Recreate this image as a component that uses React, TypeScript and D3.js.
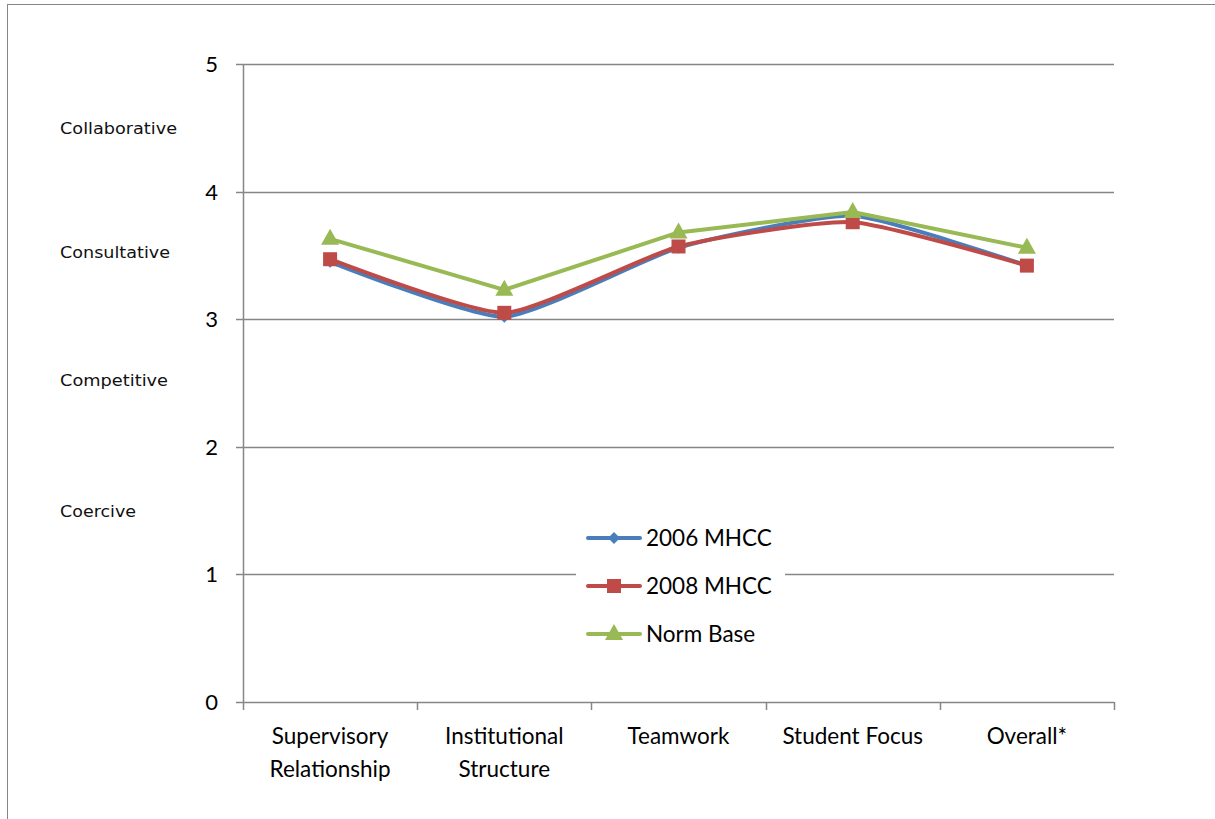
import React, { useEffect, useRef } from 'react';
import * as d3 from 'd3';

const categories = [
  ['Supervisory', 'Relationship'],
  ['Institutional', 'Structure'],
  ['Teamwork'],
  ['Student Focus'],
  ['Overall*'],
];

const series2006 = [3.45, 3.02, 3.56, 3.81, 3.42];
const series2008 = [3.47, 3.05, 3.57, 3.76, 3.42];
const seriesNorm = [3.63, 3.23, 3.68, 3.84, 3.56];

const yTicks = [0, 1, 2, 3, 4, 5];
const styleLabels = [
  { label: 'Collaborative', value: 4.5, w: 117 },
  { label: 'Consultative', value: 3.53, w: 110 },
  { label: 'Competitive', value: 2.52, w: 108 },
  { label: 'Coercive', value: 1.5, w: 76 },
];

const legendNames = ['2006 MHCC', '2008 MHCC', 'Norm Base'];

const App = () => {
  const svgRef = useRef(null);

  useEffect(() => {
    const svg = d3.select(svgRef.current);
    svg.selectAll('*').remove();

    const left = 243, right = 1114, top = 64, bottom = 702;
    const font = 'Lato, "Open Sans", sans-serif';
    const gridColor = '#868686';

    const x = d3.scaleBand().domain(d3.range(categories.length).map(String)).range([left, right]);
    const y = d3.scaleLinear().domain([0, 5]).range([bottom, top]);
    const cx = (i: number) => (x(String(i)) as number) + x.bandwidth() / 2;

    // outer frame
    svg.append('rect')
      .attr('x', 7.5).attr('y', 4.5).attr('width', 1220).attr('height', 830)
      .attr('fill', 'white').attr('stroke', gridColor).attr('stroke-width', 1);

    // gridlines
    svg.append('g').selectAll('line')
      .data(yTicks.filter(d => d > 0))
      .enter().append('line')
      .attr('x1', left).attr('x2', right)
      .attr('y1', d => Math.round(y(d)) + 0.5).attr('y2', d => Math.round(y(d)) + 0.5)
      .attr('stroke', gridColor).attr('stroke-width', 1.5);

    // y axis
    svg.append('line')
      .attr('x1', left + 0.5).attr('x2', left + 0.5).attr('y1', top).attr('y2', bottom)
      .attr('stroke', gridColor).attr('stroke-width', 1.5);
    svg.append('g').selectAll('line')
      .data(yTicks).enter().append('line')
      .attr('x1', left - 7).attr('x2', left)
      .attr('y1', d => Math.round(y(d)) + 0.5).attr('y2', d => Math.round(y(d)) + 0.5)
      .attr('stroke', gridColor).attr('stroke-width', 1.5);
    svg.append('g').selectAll('text')
      .data(yTicks).enter().append('text')
      .attr('x', 218).attr('y', d => y(d) + 8)
      .attr('text-anchor', 'end')
      .style('font-family', font).style('font-size', '22px').attr('fill', '#000')
      .text(d => d);

    // x axis
    svg.append('line')
      .attr('x1', left).attr('x2', right).attr('y1', bottom + 0.5).attr('y2', bottom + 0.5)
      .attr('stroke', gridColor).attr('stroke-width', 1.5);
    const bounds = d3.range(categories.length + 1).map(i => left + i * x.bandwidth());
    svg.append('g').selectAll('line')
      .data(bounds).enter().append('line')
      .attr('x1', d => Math.round(d) + 0.5).attr('x2', d => Math.round(d) + 0.5)
      .attr('y1', bottom).attr('y2', bottom + 8)
      .attr('stroke', gridColor).attr('stroke-width', 1.5);
    const xl = svg.append('g').selectAll('text')
      .data(categories).enter().append('text')
      .attr('x', (_d, i) => cx(i)).attr('y', 744)
      .attr('text-anchor', 'middle')
      .style('font-family', font).style('font-size', '22.5px').attr('fill', '#000');
    xl.selectAll('tspan')
      .data(d => d).enter().append('tspan')
      .attr('x', function () { return (this.parentNode as any).getAttribute('x'); })
      .attr('dy', (_d, i) => (i === 0 ? 0 : 33))
      .text(d => d);

    // left style labels
    svg.append('g').selectAll('text')
      .data(styleLabels).enter().append('text')
      .attr('x', 60).attr('y', d => y(d.value) + 6)
      .attr('textLength', d => d.w).attr('lengthAdjust', 'spacingAndGlyphs')
      .style('font-family', '"DejaVu Sans", sans-serif')
      .style('font-size', '15px').attr('fill', '#111')
      .text(d => d.label);

    // series
    const defs = [
      { data: series2006, color: '#4A7EBB', curve: d3.curveCardinal.tension(0.45), marker: 'diamond' },
      { data: series2008, color: '#BE4B48', curve: d3.curveCardinal.tension(0.45), marker: 'square' },
      { data: seriesNorm, color: '#98B954', curve: d3.curveLinear, marker: 'triangle' },
    ];

    const drawMarker = (g: any, kind: string, px: number, py: number, color: string) => {
      if (kind === 'diamond') {
        g.append('path').attr('d', `M${px},${py - 6}L${px + 6},${py}L${px},${py + 6}L${px - 6},${py}Z`).attr('fill', color);
      } else if (kind === 'square') {
        g.append('rect').attr('x', px - 7).attr('y', py - 7).attr('width', 14).attr('height', 14).attr('fill', color);
      } else {
        g.append('path').attr('d', `M${px},${py - 10}L${px + 9},${py + 6}L${px - 9},${py + 6}Z`).attr('fill', color);
      }
    };

    defs.forEach(s => {
      const line = d3.line<number>().x((_d, i) => cx(i)).y(d => y(d)).curve(s.curve);
      svg.append('path').attr('d', line(s.data) as string)
        .attr('fill', 'none').attr('stroke', s.color).attr('stroke-width', 4)
        .attr('stroke-linejoin', 'round').attr('stroke-linecap', 'round');
      const mg = svg.append('g');
      s.data.forEach((d, i) => drawMarker(mg, s.marker, cx(i), y(d), s.color));
    });

    // legend
    const lg = svg.append('g');
    lg.append('rect').attr('x', 576).attr('y', 514).attr('width', 209).attr('height', 146).attr('fill', 'white');
    defs.forEach((s, i) => {
      const ly = 538 + i * 48;
      lg.append('line').attr('x1', 588).attr('x2', 640).attr('y1', ly).attr('y2', ly)
        .attr('stroke', s.color).attr('stroke-width', 4).attr('stroke-linecap', 'round');
      drawMarker(lg, s.marker, 614, ly, s.color);
      lg.append('text').attr('x', 646).attr('y', ly + 8)
        .style('font-family', font).style('font-size', '22.5px').attr('fill', '#000')
        .text(legendNames[i]);
    });
  }, []);

  return (
    <svg
      ref={svgRef}
      width={1215}
      height={819}
      style={{ position: 'absolute', left: 0, top: 0, background: 'white' }}
    />
  );
};

export default App;
